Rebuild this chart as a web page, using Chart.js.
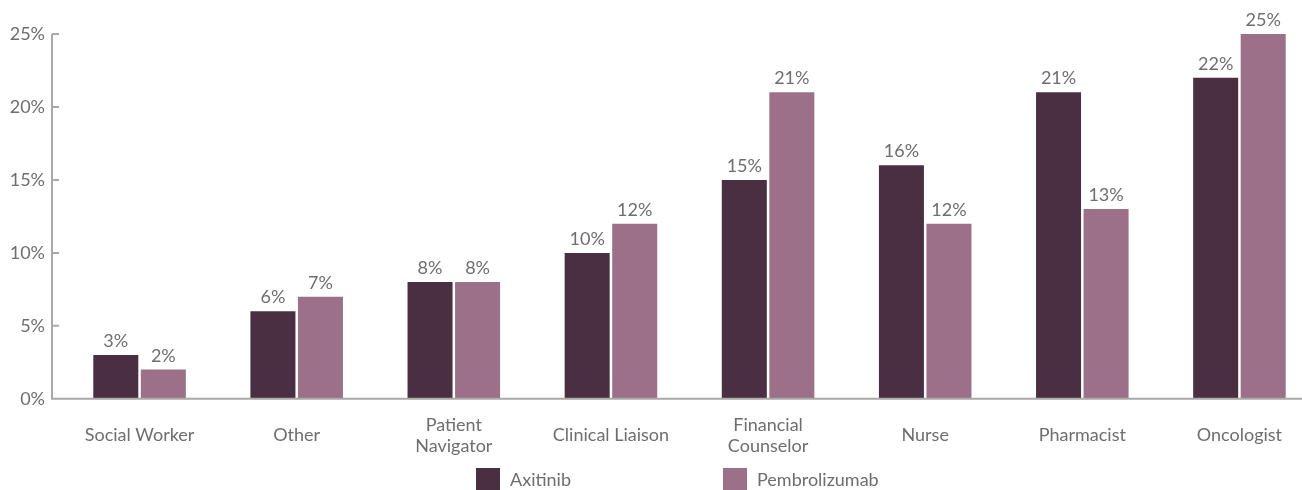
<!DOCTYPE html>
<html>
<head>
<meta charset="utf-8">
<script src="https://cdn.jsdelivr.net/npm/chart.js@4.4.1/dist/chart.umd.min.js"></script>
<style>
  html, body { margin: 0; padding: 0; background: #fff; overflow: hidden; }
  #wrap { position: relative; width: 1302px; height: 490px; overflow: hidden; }
  #box { position: absolute; left: 0; top: 0; width: 1320px; height: 494px; }
  #legend { position: absolute; left: 476px; top: 468px; display: flex; font: 18px Lato, sans-serif; color: #6e6e6e; }
  .item { display: flex; align-items: center; width: 247px; }
  .swatch { width: 24px; height: 22px; margin-right: 10px; }
</style>
</head>
<body>
<div id="wrap">
  <div id="box"><canvas id="chart"></canvas></div>
  <div id="legend"></div>
</div>
<script>
const roles = [
  "Social Worker",
  "Other",
  ["Patient", "Navigator"],
  "Clinical Liaison",
  ["Financial", "Counselor"],
  "Nurse",
  "Pharmacist",
  "Oncologist",
];
const axitinib = [3, 6, 8, 10, 15, 16, 21, 22];
const pembrolizumab = [2, 7, 8, 12, 21, 12, 13, 25];
const yTicks = [0, 5, 10, 15, 20, 25];

const textColor = "#6e6e6e";
const axisColor = "#a9a9a9";
const fontFamily = "Lato, 'Open Sans', sans-serif";

// value labels sitting on top of each bar
const barValues = {
  id: "barValues",
  afterDatasetsDraw(chart) {
    const ctx = chart.ctx;
    ctx.save();
    ctx.font = "18px " + fontFamily;
    ctx.fillStyle = textColor;
    ctx.textAlign = "center";
    ctx.textBaseline = "alphabetic";
    chart.data.datasets.forEach((ds, i) => {
      chart.getDatasetMeta(i).data.forEach((bar, j) => {
        ctx.fillText(ds.data[j] + "%", bar.x, bar.y - 8);
      });
    });
    ctx.restore();
  },
};

// axis lines with short inward ticks, set a bit left of the first group
const axisLines = {
  id: "axisLines",
  afterDatasetsDraw(chart) {
    const ctx = chart.ctx;
    const y = chart.scales.y;
    const x0 = chart.chartArea.left - 9;
    const yBase = y.getPixelForValue(0);
    ctx.save();
    ctx.strokeStyle = axisColor;
    ctx.lineWidth = 2;
    ctx.beginPath();
    ctx.moveTo(x0, y.getPixelForValue(yTicks[yTicks.length - 1]));
    ctx.lineTo(x0, yBase);
    ctx.lineTo(chart.width, yBase);
    yTicks.forEach((t) => {
      const py = y.getPixelForValue(t);
      ctx.moveTo(x0, py);
      ctx.lineTo(x0 + 7, py);
    });
    ctx.stroke();
    ctx.restore();
  },
};

const chart = new Chart(document.getElementById("chart"), {
  type: "bar",
  data: {
    labels: roles,
    datasets: [
      {
        label: "Axitinib",
        data: axitinib,
        backgroundColor: "#4a2f42",
        categoryPercentage: 0.605,
        barPercentage: 0.947,
      },
      {
        label: "Pembrolizumab",
        data: pembrolizumab,
        backgroundColor: "#9c7088",
        categoryPercentage: 0.605,
        barPercentage: 0.947,
      },
    ],
  },
  options: {
    responsive: true,
    maintainAspectRatio: false,
    animation: false,
    layout: { padding: { top: 34, right: 2, bottom: 0, left: 0 } },
    plugins: {
      legend: { display: false },
      tooltip: { enabled: false },
    },
    scales: {
      x: {
        grid: { display: false, drawTicks: false },
        border: { display: false },
        ticks: {
          color: textColor,
          font: { family: fontFamily, size: 18, lineHeight: 1.2 },
          padding: 26,
          crossAlign: "center",
          maxRotation: 0,
          autoSkip: false,
        },
      },
      y: {
        min: 0,
        max: 25,
        grid: { display: false, drawTicks: false },
        border: { display: false },
        afterFit: (scale) => {
          scale.width = 61;
        },
        ticks: {
          stepSize: 5,
          color: textColor,
          font: { family: fontFamily, size: 18 },
          padding: 16,
          callback: (v) => v + "%",
        },
      },
    },
  },
  plugins: [barValues, axisLines],
});

// legend built from the datasets
const legend = document.getElementById("legend");
chart.data.datasets.forEach((ds) => {
  const item = document.createElement("div");
  item.className = "item";
  const sw = document.createElement("span");
  sw.className = "swatch";
  sw.style.background = ds.backgroundColor;
  item.appendChild(sw);
  item.appendChild(document.createTextNode(ds.label));
  legend.appendChild(item);
});
</script>
</body>
</html>
